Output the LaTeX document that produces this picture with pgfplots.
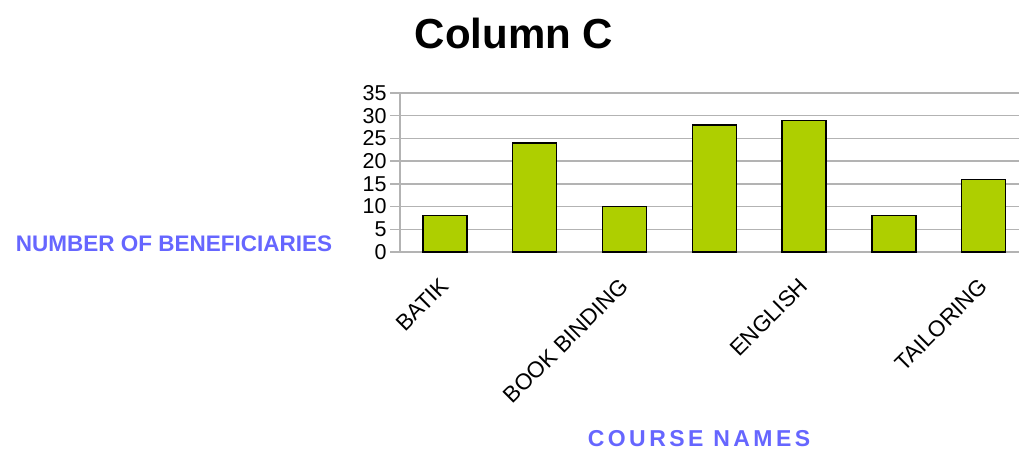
\documentclass[border=0pt]{standalone}
\usepackage{pgfplots}
\pgfplotsset{compat=1.18}
\usepackage{fontspec}
\setmainfont{Liberation Sans}
\definecolor{barfill}{HTML}{AECF00}
\definecolor{gridc}{HTML}{B3B3B3}
\definecolor{titleblue}{HTML}{6666FF}
\begin{document}
\begin{tikzpicture}[x=1pt,y=1pt]
\useasboundingbox (0,0) rectangle (1019,451);
\clip (0,0) rectangle (1019,451);
\begin{axis}[
  at={(400pt,199pt)}, anchor=south west,
  scale only axis, width=628.6pt, height=159pt,
  xmin=0.5, xmax=7.5, ymin=0, ymax=35,
  axis lines*=left,
  axis line style={gridc, line width=1.3pt},
  ymajorgrids, grid style={gridc, line width=1.3pt},
  ytick={0,5,...,35},
  xtick={1,3,5,7},
  xticklabels={BATIK,BOOK BINDING,ENGLISH,TAILORING},
  xtick style={draw=none},
  minor xtick={0.5,1.5,...,7.5},
  minor tick length=10pt, major tick length=10pt,
  tick align=outside,
  ytick style={gridc, line width=1.3pt},
  minor x tick style={gridc, line width=1.3pt},
  /pgf/number format/assume math mode=true,
  ticklabel style={font=\fontsize{21.5}{25}\selectfont, text=black},
  xticklabel style={font=\fontsize{22.5}{26}\selectfont, xshift=-6pt, yshift=-14.5pt, rotate=45, anchor=north east, inner sep=0pt},
  ybar, bar width=44pt,
  clip=false,
]
\addplot[fill=barfill, draw=black, line width=1.5pt, bar shift=0pt] coordinates {
(1,8) (2,24) (3,10) (4,28) (5,29) (6,8) (7,16)
};
\end{axis}
\node[font=\fontsize{42}{48}\selectfont\bfseries] at (514,418) {Column C};
\node[anchor=base, inner sep=0pt, font=\fontsize{22.5}{26}\selectfont\bfseries, text=titleblue] at (174,200) {NUMBER OF BENEFICIARIES};
\node[anchor=base, inner sep=0pt, font=\fontsize{23}{26}\selectfont\bfseries\addfontfeature{LetterSpace=15}, text=titleblue] at (699,5) {COURSE NAMES};
\end{tikzpicture}
\end{document}
